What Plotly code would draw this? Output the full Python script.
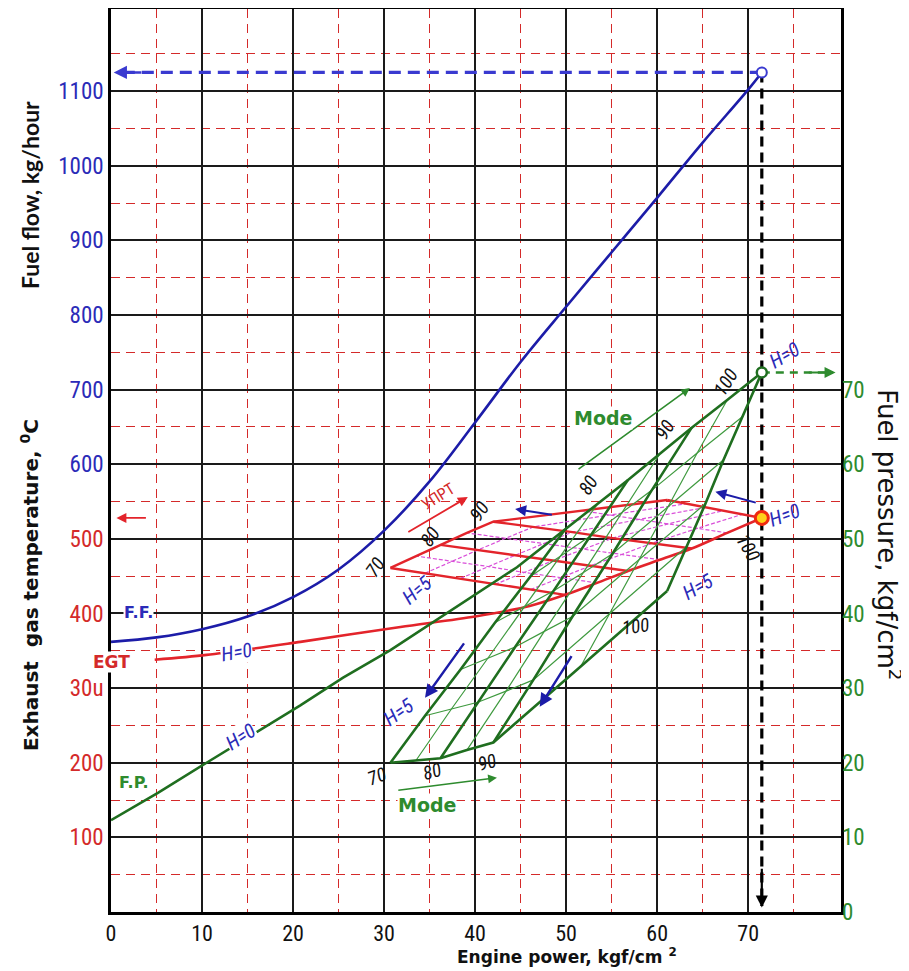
import plotly.graph_objects as go

# ---------------- tick labels ----------------
power_ticks = [0, 10, 20, 30, 40, 50, 60, 70]
ff_ticks = [600, 700, 800, 900, 1000, 1100]
egt_ticks = [100, 200, 300, 400, 500]
egt_ticktext = ["100", "200", "30u", "400", "500"]
fp_ticks = [0, 10, 20, 30, 40, 50, 60, 70]

# ---------------- main curves (H = 0) ----------------
ff_power = [0, 5, 10, 15, 20, 25, 30, 35, 40, 45, 50, 55, 60, 65, 70, 71.5]
ff_value = [362, 368, 379, 396, 422, 459, 511, 577, 656, 737, 811, 884, 957, 1031, 1102, 1125]

egt_h0_power = [4.8, 10.5, 20.8, 31.8, 40.0, 46.0]
egt_h0_value = [338, 344.5, 362, 382, 396, 410]

fp_h0_power = [0, 5.2, 10.5, 16.4, 20.8, 25.5, 30.7, 44.6]
fp_h0_value = [12.3, 16.0, 20.0, 24.4, 27.7, 31.4, 35.1, 46.2]

# ---------------- mesh: mode x altitude H ----------------
mesh_modes = [70, 75, 80, 85, 90, 95, 100]
mesh_H = [0, 1, 2, 3, 4, 5]

power_m70 = [49.9, 46.1, 42.2, 38.4, 34.5, 30.7]
power_m75 = [53.4, 49.4, 45.4, 41.4, 37.4, 33.5]
power_m80 = [56.8, 52.7, 48.6, 44.4, 40.3, 36.2]
power_m85 = [60.3, 56.1, 51.9, 47.6, 43.4, 39.1]
power_m90 = [63.8, 59.4, 55.1, 50.7, 46.4, 42.0]
power_m95 = [67.7, 64.4, 61.2, 58.0, 54.8, 51.6]
power_m100 = [71.5, 69.4, 67.3, 65.3, 63.2, 61.1]

fp_m70 = [51.3, 45.0, 38.8, 32.5, 26.3, 20.0]
fp_m75 = [54.6, 47.7, 40.9, 34.0, 27.2, 20.3]
fp_m80 = [57.9, 50.4, 43.0, 35.5, 28.1, 20.6]
fp_m85 = [61.4, 53.5, 45.5, 37.6, 29.6, 21.7]
fp_m90 = [64.9, 56.5, 48.0, 39.6, 31.1, 22.7]
fp_m95 = [68.6, 61.5, 54.3, 47.2, 40.0, 32.9]
fp_m100 = [72.3, 66.4, 60.6, 54.7, 48.9, 43.0]

egt_m70 = [425, 432, 439, 447, 454, 461]
egt_m75 = [441, 448, 455, 463, 470, 477]
egt_m80 = [457, 464, 471, 478, 485, 492]
egt_m85 = [472, 479, 486, 494, 501, 508]
egt_m90 = [487, 494, 501, 509, 516, 523]
egt_m95 = [508, 514, 520, 526, 532, 538]
egt_m100 = [528, 533, 538, 542, 547, 552]

# operating point (mode 100, H = 0)
op_power = 71.5
op_ff = 1125
op_fp = 72.3
op_egt = 528

power_by_mode = dict(zip(mesh_modes, [power_m70, power_m75, power_m80, power_m85, power_m90, power_m95, power_m100]))
fp_by_mode = dict(zip(mesh_modes, [fp_m70, fp_m75, fp_m80, fp_m85, fp_m90, fp_m95, fp_m100]))
egt_by_mode = dict(zip(mesh_modes, [egt_m70, egt_m75, egt_m80, egt_m85, egt_m90, egt_m95, egt_m100]))
major_modes = [70, 80, 90, 100]

BLUE = "#1c1ca8"
BLUE_T = "#2b2bb8"
RED = "#e3242b"
RED_T = "#d42a2a"
MAGENTA = "#d94fd9"
GREEN = "#1f6e1f"
GREEN_THIN = "#3f9a3f"
GREEN_T = "#2e8b2e"
NARROW = "Liberation Sans Narrow, Arial Narrow, Roboto Condensed, DejaVu Sans Condensed, Liberation Sans, sans-serif"
LATO = "Lato, Open Sans, Noto Sans, sans-serif"
WIDE = "DejaVu Sans, Verdana, sans-serif"

fig = go.Figure()


def line(x, y, color, width, yaxis="y", dash=None, shape="linear", smoothing=None):
    fig.add_trace(go.Scatter(x=x, y=y, mode="lines", yaxis=yaxis, hoverinfo="skip",
                             line=dict(color=color, width=width, dash=dash, shape=shape,
                                       smoothing=smoothing)))


# ---- fuel flow ----
line(ff_power, ff_value, BLUE, 2.6, shape="spline", smoothing=1.0)

# ---- EGT mesh ----
for hi, h in enumerate(mesh_H):
    if h in (0, 5):
        continue
    line([power_by_mode[m][hi] for m in mesh_modes], [egt_by_mode[m][hi] for m in mesh_modes], MAGENTA, 1.2, dash="4px,2px")
for m in mesh_modes:
    if m not in major_modes:
        line(power_by_mode[m], egt_by_mode[m], MAGENTA, 1.2, dash="4px,2px")
for m in major_modes:
    line(power_by_mode[m], egt_by_mode[m], RED, 2.4)
line([power_by_mode[m][5] for m in mesh_modes], [egt_by_mode[m][5] for m in mesh_modes], RED, 2.4)
line(egt_h0_power + [power_by_mode[m][0] for m in mesh_modes],
     egt_h0_value + [egt_by_mode[m][0] for m in mesh_modes], RED, 2.6, shape="spline", smoothing=0.8)

# ---- fuel pressure mesh (right axis) ----
for hi, h in enumerate(mesh_H):
    if h in (0, 5):
        continue
    line([power_by_mode[m][hi] for m in mesh_modes], [fp_by_mode[m][hi] for m in mesh_modes], GREEN_THIN, 1.2, yaxis="y2")
for m in mesh_modes:
    if m not in major_modes:
        line(power_by_mode[m], fp_by_mode[m], GREEN_THIN, 1.2, yaxis="y2")
for m in major_modes:
    line(power_by_mode[m], fp_by_mode[m], GREEN, 2.6, yaxis="y2")
line([power_by_mode[m][5] for m in mesh_modes], [fp_by_mode[m][5] for m in mesh_modes], GREEN, 2.6, yaxis="y2")
line(fp_h0_power + [power_by_mode[m][0] for m in mesh_modes],
     fp_h0_value + [fp_by_mode[m][0] for m in mesh_modes], GREEN, 2.6, yaxis="y2")

# ---- read-off dashed lines ----
line([op_power, 0.6], [op_ff, op_ff], "#3a3ad0", 3.2, dash="12px,7px")
line([op_power, op_power], [op_ff, 8], "black", 3.2, dash="10px,6px")
line([op_power, 79.3], [op_fp, op_fp], "#2e8b2e", 2.6, yaxis="y2", dash="8px,6px")

# ---- operating point markers ----
fig.add_trace(go.Scatter(x=[op_power], y=[op_ff], mode="markers", hoverinfo="skip",
                         marker=dict(size=10, color="white", line=dict(color="#3a3ad0", width=2))))
fig.add_trace(go.Scatter(x=[op_power], y=[op_fp], yaxis="y2", mode="markers", hoverinfo="skip",
                         marker=dict(size=10, color="white", line=dict(color=GREEN, width=2.5))))
fig.add_trace(go.Scatter(x=[op_power], y=[op_egt], mode="markers", hoverinfo="skip",
                         marker=dict(size=13, color="#ffd21a", line=dict(color="#f02a10", width=3))))

ann = []


def arrow(x0, y0, x1, y1, color, width=2.0, head=2):
    ann.append(dict(x=x1, y=y1, ax=x0, ay=y0, xref="x", yref="y", axref="x", ayref="y",
                    showarrow=True, arrowhead=head, arrowsize=1.1, arrowwidth=width,
                    arrowcolor=color, text=""))


def label(x, y, text, color, size=16, angle=0, bold=False, italic=False, family=NARROW, bg=None,
          xref="x", yref="y"):
    t = f"<b>{text}</b>" if bold else text
    ann.append(dict(x=x, y=y, xref=xref, yref=yref, text=t, showarrow=False, textangle=angle,
                    xanchor="center", yanchor="middle",
                    font=dict(color=color, size=size, family=family,
                              style="italic" if italic else "normal"),
                    bgcolor=bg, borderpad=0))


# arrow heads at the end of read-off lines
arrow(3.5, op_ff, 0.3, op_ff, "#3a3ad0", 2.4)
arrow(op_power, 60, op_power, 6, "black", 2.2)
arrow(76.5, op_fp * 10, 79.6, op_fp * 10, "#2e8b2e", 2.0)
arrow(4.0, op_egt, 0.6, op_egt, RED, 1.8)

# Mode / УПРТ arrows
arrow(51.2, 592, 63.6, 702, "#2e8b2e", 1.6)
arrow(31.4, 163, 42.4, 180, "#2e8b2e", 1.6)
arrow(32.5, 508, 39.2, 556, RED, 1.8)
# altitude direction arrows (blue)
arrow(48.6, 532, 44.4, 540, BLUE, 2.0)
arrow(71.0, 548, 66.4, 563, BLUE, 2.0)
arrow(38.9, 362, 34.5, 287, BLUE, 2.4)
arrow(50.7, 345, 47.1, 275, BLUE, 2.4)

# curve names
label(3.0, 401, "F.F.", BLUE_T, 16, bold=True, family=WIDE, bg="white")
label(0.0, 335, "EGT", RED_T, 17, bold=True, family=WIDE, bg="white")
label(2.5, 174, "F.P.", GREEN_T, 16, bold=True, family=WIDE, bg="white")

# altitude labels
label(13.8, 349, "H=0", BLUE_T, 20, -10, italic=True, bg="white")
label(14.2, 235, "H=0", BLUE_T, 20, -33, italic=True, bg="white")
label(31.6, 268, "H=5", BLUE_T, 20, -35, italic=True)
label(33.6, 432, "H=5", BLUE_T, 20, -40, italic=True)
label(64.4, 436, "H=5", BLUE_T, 20, -30, italic=True)
label(74.0, 746, "H=0", BLUE_T, 20, -30, italic=True)
label(74.0, 532, "H=0", BLUE_T, 20, -20, italic=True)

# mode numbers
for x, y, t, a in [(29.0, 462, "70", -55), (35.1, 503, "80", -55), (40.5, 536, "90", -55), (70.0, 489, "100", 60),
                   (52.4, 572, "80", -58), (60.9, 646, "90", -58), (67.5, 710, "100", -58),
                   (29.2, 181, "70", -20), (35.3, 188, "80", -15), (41.3, 200, "90", -15), (57.6, 382, "100", -8)]:
    label(x, y, t, "#111111", 19, a, italic=True)

label(54.1, 662, "Mode", GREEN_T, 19, bold=True, family=WIDE, bg="white")
label(34.7, 143, "Mode", GREEN_T, 19, bold=True, family=WIDE, bg="white")
label(35.9, 557, "УПРТ", RED_T, 16, -32)

# axis titles
label(-0.111, 0.794, "Fuel flow, kg/hour", "#111111", 23, -90, bold=True, family=LATO, xref="paper", yref="paper")
label(-0.111, 0.362, "Exhaust  gas temperature, <sup>0</sup>C", "#111111", 20, -90, bold=True, family=WIDE,
      xref="paper", yref="paper")
label(1.066, 0.418, "Fuel pressure, kgf/cm<sup>2</sup>", "#111111", 26, 90, family=WIDE,
      xref="paper", yref="paper")
label(0.625, -0.0485, "Engine power, kgf/cm <sup>2</sup>", "#111111", 17, 0, bold=True, family=WIDE,
      xref="paper", yref="paper")

left_vals = egt_ticks + ff_ticks
left_text = [f"<span style='color:{RED_T}'>{t}</span>" for t in egt_ticktext] + \
            [f"<span style='color:{BLUE_T}'>{v}</span>" for v in ff_ticks]

# page has an 8px body margin, so the figure is 8px smaller and shifted
fig.update_layout(
    width=901, height=963,
    margin=dict(l=103, r=68, t=1, b=59, autoexpand=False),
    plot_bgcolor="white", paper_bgcolor="white",
    showlegend=False,
    annotations=ann,
    xaxis=dict(range=[0, 80.2], tickmode="array", tickvals=power_ticks, ticktext=[str(v) for v in power_ticks],
               showgrid=True, gridcolor="#1a1a1a", gridwidth=1.6, zeroline=False,
               minor=dict(tickmode="array", tickvals=[5, 15, 25, 35, 45, 55, 65, 75], showgrid=True,
                          gridcolor=RED_T, griddash="9px,6px", gridwidth=1.4),
               showline=True, linecolor="black", linewidth=2.6, mirror=True, ticks="",
               tickfont=dict(size=22, color="#111111", family=NARROW)),
    yaxis=dict(range=[0, 1210], tickmode="array", tickvals=left_vals, ticktext=left_text,
               showgrid=True, gridcolor="#1a1a1a", gridwidth=1.6, zeroline=False,
               minor=dict(tickmode="array", tickvals=[50, 150, 250, 350, 450, 550, 650, 750, 850, 950, 1050, 1150],
                          showgrid=True, gridcolor=RED_T, griddash="9px,6px", gridwidth=1.4),
               showline=True, linecolor="black", linewidth=2.6, mirror=True, ticks="",
               tickfont=dict(size=23, family=NARROW)),
    yaxis2=dict(overlaying="y", side="right", range=[0, 121], tickmode="array", tickvals=fp_ticks,
                ticktext=[str(v) for v in fp_ticks], showgrid=False, zeroline=False, showline=False,
                ticks="", tickfont=dict(size=23, color=GREEN_T, family=NARROW)),
)

fig.write_html("out.html")
